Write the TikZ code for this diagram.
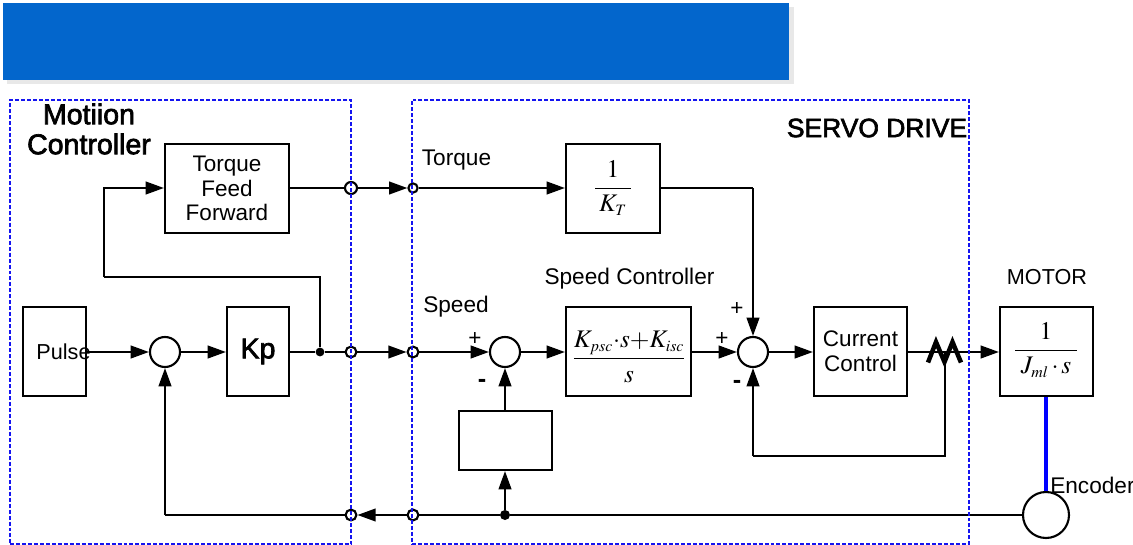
\documentclass[tikz,border=0pt]{standalone}
\usepackage{mathptmx}
\usepackage[no-math]{fontspec}
\setmainfont{Liberation Sans}
\newfontfamily\heavyfont[FakeBold=2.4]{Liberation Sans}
\usepackage{color}
\usetikzlibrary{arrows.meta}

\DeclareMathSizes{18}{18}{11.3}{9}

\definecolor{bannerblue}{RGB}{3,102,204}
\definecolor{bannershade}{RGB}{232,232,232}
\definecolor{dashblue}{RGB}{20,20,240}

\tikzset{
  label text/.style={inner sep=0pt, font=\fontsize{16.1}{18.5}\selectfont, align=center},
  title text/.style={inner sep=0pt, font=\fontsize{20.3}{21.3}\heavyfont, align=center},
  sign text/.style={inner sep=0pt, font=\fontsize{16}{18}\selectfont},
  math text/.style={inner sep=0pt, font=\fontsize{18}{21}\selectfont},
  block/.style={rectangle, draw=black, line width=1.5pt, inner sep=0pt, align=center, font=\fontsize{16}{17.6}\selectfont},
  sum/.style={circle, draw=black, line width=1.5pt, fill=white, inner sep=0pt, minimum size=0.75cm},
  tap/.style={circle, draw=black, line width=1.5pt, fill=white, inner sep=0pt, minimum size=0.27cm},
  solid dot/.style={circle, fill=black, inner sep=0pt, minimum size=0.25cm},
  zone/.style={rectangle, draw=dashblue, line width=1pt, dash pattern=on 2.83pt off 1.42pt, inner sep=0pt},
  wire/.style={draw=black, line width=1.5pt},
  flow/.style={wire, -{Triangle[length=13pt,width=9pt]}}
}

\begin{document}
\begin{tikzpicture}[x=0.025cm, y=-0.025cm]

\useasboundingbox (0,0) rectangle (1133,545);

\node(shade) [rectangle, fill=bannershade, inner sep=0pt, minimum width=19.65cm, minimum height=1.925cm] at (400.5,45.5) {};
\node(banner) [rectangle, fill=bannerblue, inner sep=0pt, minimum width=19.65cm, minimum height=1.925cm] at (396,41.5) {};

\node(ff) [block, minimum width=3.1cm, minimum height=2.225cm] at (227,188.5) {Torque\\Feed\\Forward};
\node(kt) [block, minimum width=2.35cm, minimum height=2.225cm] at (613,188.5) {};
\node(pulse) [block, minimum width=1.575cm, minimum height=2.225cm] at (54.5,351.5) {};
\node(kp) [block, minimum width=1.55cm, minimum height=2.225cm, font=\fontsize{20.3}{22}\heavyfont] at (258,351.5) {Kp};
\node(speed) [block, minimum width=3.125cm, minimum height=2.225cm] at (628.5,351.5) {};
\node(current) [block, minimum width=2.325cm, minimum height=2.225cm] at (860.5,351.5) {Current\\Control};
\node(motor) [block, minimum width=2.325cm, minimum height=2.225cm] at (1046.5,351.5) {};
\node(filter) [block, minimum width=2.325cm, minimum height=1.475cm] at (505.5,440.5) {};

\node(pulsename) [label text, font=\fontsize{15.4}{18}\selectfont] at (63.5,351.5) {Pulse};
\node(ktfrac) [math text] at (613,188) {$\displaystyle\frac{\makebox[25pt]{$1$}}{K_T}$};
\node(speedfrac) [math text] at (629,357) {$\displaystyle\frac{K_{psc}{\cdot}s{+}K_{isc}}{s}$};
\node(motorfrac) [math text] at (1046,350) {$\displaystyle\frac{\makebox[44pt]{$1$}}{J_{ml}\,{\cdot}\,s}$};

\node(sum1) [sum] at (165,352) {};
\node(sum2) [sum] at (505,352) {};
\node(sum3) [sum] at (753,352) {};
\node(encoder) [sum, minimum size=1.15cm] at (1046,515) {};

\node(dot1) [solid dot, minimum size=0.22cm] at (320,352) {};
\node(dot2) [solid dot] at (505,515) {};
\node(tap1) [tap, minimum size=0.3cm] at (351,188) {};
\node(tap2) [tap, minimum size=0.23cm] at (413,188) {};
\node(tap3) [tap] at (351,352) {};
\node(tap4) [tap] at (413,352) {};
\node(tap5) [tap] at (351,515) {};
\node(tap6) [tap] at (413,515) {};

\coordinate(ffturn) at (104,277);
\coordinate(sensor) at (945,352);
\coordinate(curturn) at (945,456);
\coordinate(sumturn) at (753,456);
\coordinate(ktturn) at (753,188);
\coordinate(backturn) at (165,515);

\draw[flow] (pulse.east |- sum1) -- (sum1);
\draw[flow] (sum1) -- (kp.west |- sum1);
\draw[wire] (kp.east |- dot1) -- (dot1);
\draw[wire] (dot1) -- (tap3);
\draw[flow] (tap3) -- (tap4);
\draw[flow] (tap4) -- (sum2);
\draw[flow] (sum2) -- (speed.west |- sum2);
\draw[flow] (speed.east |- sum3) -- (sum3);
\draw[flow] (sum3) -- (current.west |- sum3);
\draw[flow] (current.east |- sensor) -- (motor.west |- sensor);
\draw[wire] (dot1) |- (ffturn);
\draw[flow] (ffturn) |- (ff.west |- tap1);
\draw[wire] (ff.east |- tap1) -- (tap1);
\draw[flow] (tap1) -- (tap2);
\draw[flow] (tap2) -- (kt.west |- tap2);
\draw[wire] (kt.east |- ktturn) -- (ktturn);
\draw[flow] (ktturn) -- (sum3);
\draw[wire] (sensor) -- (curturn) -- (sumturn);
\draw[flow] (sumturn) -- (sum3);
\draw[flow] (filter.north -| sum2) -- (sum2);
\draw[flow] (dot2) -- (filter.south -| dot2);
\draw[wire] (encoder) -- (dot2);
\draw[wire] (dot2) -- (tap6);
\draw[flow] (tap6) -- (tap5);
\draw[wire] (tap5) -- (backturn);
\draw[flow] (backturn) -- (sum1);
\draw[draw=blue, line width=3pt] (motor.south -| encoder) -- (encoder);

\draw[line width=3.2pt] (928,362.5) -- (936,342) -- (944.5,362) -- (952.5,342) -- (961,362.5);

\node(zone1) [zone, minimum width=8.525cm, minimum height=11.1cm] at (180.5,322) {};
\node(zone2) [zone, minimum width=13.925cm, minimum height=11.1cm] at (690.5,322) {};

\node(title1) [title text] at (89,129) {Motiion\\Controller};
\node(title2) [title text, font=\fontsize{18.8}{21}\heavyfont] at (877,128) {SERVO DRIVE};
\node(torque) [label text] at (456.5,160.5) {Torque};
\node(speedin) [label text] at (456,307) {Speed};
\node(speedname) [label text] at (629.5,279) {Speed Controller};
\node(motorname) [label text, font=\fontsize{15.4}{18}\selectfont] at (1047,277) {MOTOR};
\node(encname) [label text, anchor=west] at (1050,485) {Encoder};

\node(plus1) [sign text] at (475,339) {+};
\node(plus2) [sign text] at (722,339) {+};
\node(plus3) [sign text] at (737,309) {+};
\node(minus1) [sign text, font=\fontsize{18}{18}\selectfont\bfseries] at (482,383) {-};
\node(minus2) [sign text, font=\fontsize{18}{18}\selectfont\bfseries] at (737,384) {-};

\end{tikzpicture}
\end{document}
